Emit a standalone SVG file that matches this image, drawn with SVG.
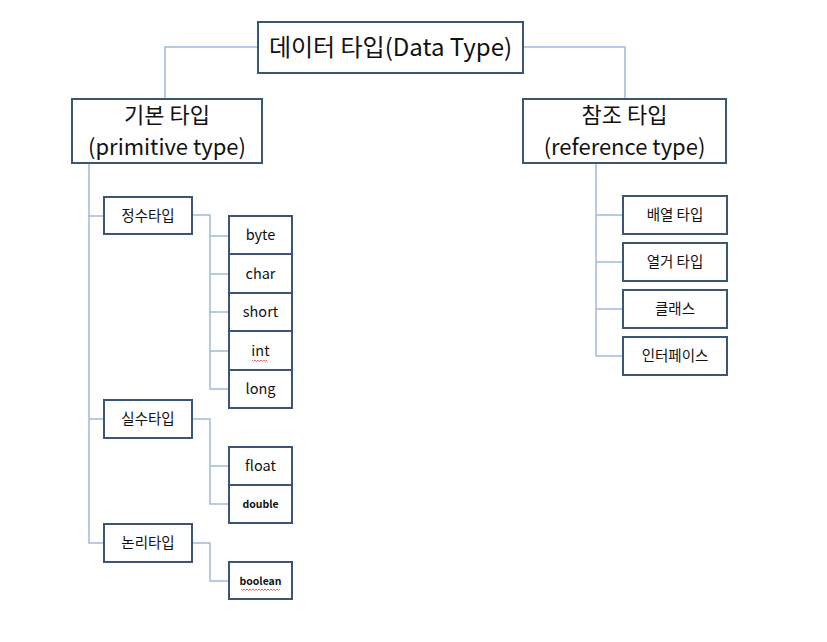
<svg xmlns="http://www.w3.org/2000/svg" width="827" height="642" viewBox="0 0 827 642">
<style>
.box{fill:#fff;stroke:#3a5578;stroke-width:2}
.ln{fill:none;stroke:#a3bbdc;stroke-width:1.5}
text{font-family:"Noto Sans CJK KR","Noto Sans",sans-serif;fill:#111;text-anchor:middle}
.big{font-size:24px}
.big2{font-size:22px}
.mid{font-size:14.5px}
.sm{font-size:10.5px;font-weight:bold}
.sq{fill:none;stroke:#e04040;stroke-width:0.8}
</style>
<rect width="827" height="642" fill="#fff"/>
<g id="connectors">
<path class="ln" d="M258 47H165V99"/>
<path class="ln" d="M523 47H625V99"/>
<path class="ln" d="M89 163V543H104M89 216H104M89 419H104"/>
<path class="ln" d="M192 215H210V389H229M210 236H229M210 274H229M210 312H229M210 351H229"/>
<path class="ln" d="M192 419H210V504H229M210 466H229"/>
<path class="ln" d="M192 543H210V581H229"/>
<path class="ln" d="M596 163V356H623M596 215H623M596 262H623M596 309H623"/>
</g>
<g id="n-root"><rect class="box" x="258" y="22" width="265" height="51"/><text class="big" x="390.5" y="56">데이터 타입(Data Type)</text></g>
<g id="n-primitive"><rect class="box" x="72" y="99" width="190" height="64"/><text class="big2" x="167" y="123">기본 타입</text><text class="big2" x="167" y="155">(primitive type)</text></g>
<g id="n-reference"><rect class="box" x="523" y="99" width="203" height="64"/><text class="big2" x="624.5" y="123">참조 타입</text><text class="big2" x="624.5" y="155">(reference type)</text></g>
<g id="n-int-type"><rect class="box" x="104" y="197" width="88" height="37"/><text class="mid" x="148" y="221">정수타입</text></g>
<g id="n-float-type"><rect class="box" x="104" y="400" width="88" height="38"/><text class="mid" x="148" y="424">실수타입</text></g>
<g id="n-bool-type"><rect class="box" x="104" y="524" width="88" height="38"/><text class="mid" x="148" y="548">논리타입</text></g>
<g id="n-byte"><rect class="box" x="229" y="216" width="63" height="38"/><text class="mid" x="260.5" y="240">byte</text></g>
<g id="n-char"><rect class="box" x="229" y="254" width="63" height="39"/><text class="mid" x="260.5" y="279">char</text></g>
<g id="n-short"><rect class="box" x="229" y="293" width="63" height="38"/><text class="mid" x="260.5" y="317">short</text></g>
<g id="n-int"><rect class="box" x="229" y="331" width="63" height="39"/><text class="mid" x="260.5" y="356">int</text><path class="sq" d="M252 360l1.5 1.5 1.5-1.5 1.5 1.5 1.5-1.5 1.5 1.5 1.5-1.5 1.5 1.5 1.5-1.5 1.5 1.5 1.5-1.5"/></g>
<g id="n-long"><rect class="box" x="229" y="370" width="63" height="38"/><text class="mid" x="260.5" y="394">long</text></g>
<g id="n-float"><rect class="box" x="229" y="447" width="63" height="38"/><text class="mid" x="260.5" y="471">float</text></g>
<g id="n-double"><rect class="box" x="229" y="485" width="63" height="38"/><text class="sm" x="260.5" y="508">double</text></g>
<g id="n-boolean"><rect class="box" x="229" y="562" width="63" height="37"/><text class="sm" x="260.5" y="585">boolean</text><path class="sq" d="M241 589l1.5 1.5 1.5-1.5 1.5 1.5 1.5-1.5 1.5 1.5 1.5-1.5 1.5 1.5 1.5-1.5 1.5 1.5 1.5-1.5 1.5 1.5 1.5-1.5 1.5 1.5 1.5-1.5 1.5 1.5 1.5-1.5 1.5 1.5 1.5-1.5 1.5 1.5 1.5-1.5 1.5 1.5 1.5-1.5 1.5 1.5 1.5-1.5 1.5 1.5 1.5-1.5"/></g>
<g id="n-array"><rect class="box" x="623" y="196" width="104" height="38"/><text class="mid" x="675" y="220">배열 타입</text></g>
<g id="n-enum"><rect class="box" x="623" y="243" width="104" height="38"/><text class="mid" x="675" y="267">열거 타입</text></g>
<g id="n-class"><rect class="box" x="623" y="290" width="104" height="38"/><text class="mid" x="675" y="314">클래스</text></g>
<g id="n-interface"><rect class="box" x="623" y="337" width="104" height="38"/><text class="mid" x="675" y="361">인터페이스</text></g>
</svg>
